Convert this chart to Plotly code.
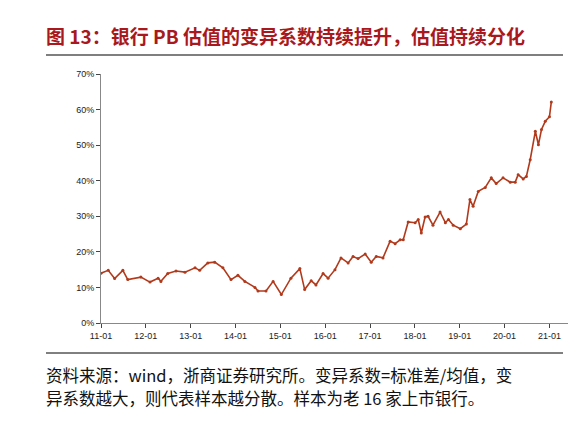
import plotly.graph_objects as go

dates = [
    "2011-01-01", "2011-03-01", "2011-04-22", "2011-06-28", "2011-08-07", "2011-11-22",
    "2012-02-04", "2012-04-10", "2012-05-03", "2012-06-28", "2012-09-03", "2012-11-15",
    "2013-02-05", "2013-03-15", "2013-05-20", "2013-07-15", "2013-09-20", "2013-11-25",
    "2014-01-20", "2014-03-18", "2014-06-08", "2014-07-03", "2014-09-06", "2014-11-03",
    "2015-01-09", "2015-03-28", "2015-06-09", "2015-07-18", "2015-09-09", "2015-10-18",
    "2015-12-15", "2016-01-25", "2016-03-21", "2016-05-09", "2016-07-06", "2016-08-15",
    "2016-09-25", "2016-11-22", "2017-01-10", "2017-02-20", "2017-04-16", "2017-06-13",
    "2017-07-24", "2017-09-03", "2017-09-28", "2017-11-07", "2018-01-03", "2018-01-28",
    "2018-02-22", "2018-03-25", "2018-04-18", "2018-05-28", "2018-07-25", "2018-09-06",
    "2018-10-01", "2018-11-09", "2019-01-06", "2019-02-24", "2019-03-25", "2019-04-20",
    "2019-06-01", "2019-07-28", "2019-09-15", "2019-10-25", "2019-12-20", "2020-02-17",
    "2020-03-28", "2020-04-21", "2020-06-01", "2020-06-27", "2020-07-28", "2020-09-08",
    "2020-10-03", "2020-10-28", "2020-11-28", "2021-01-01", "2021-01-16",
]
cv = [
    14.0, 14.8, 12.5, 14.8, 12.2, 12.9,
    11.5, 12.6, 11.7, 13.9, 14.6, 14.3,
    15.5, 14.8, 16.9, 17.1, 15.5, 12.2,
    13.4, 11.7, 10.0, 9.0, 9.0, 11.7,
    8.0, 12.6, 15.3, 9.4, 11.9, 10.7,
    13.9, 12.6, 15.0, 18.3, 16.9, 18.7,
    18.1, 19.4, 17.1, 18.7, 18.3, 23.0,
    22.3, 23.4, 23.4, 28.4, 28.2, 29.1,
    25.3, 29.8, 30.0, 27.5, 31.2, 28.2,
    29.1, 27.5, 26.5, 27.8, 34.7, 32.8,
    37.0, 38.1, 40.8, 39.2, 40.8, 39.6,
    39.6, 41.7, 40.5, 41.2, 45.9, 53.9,
    50.1, 54.4, 56.7, 58.0, 62.1,
]
y_ticks = [0, 10, 20, 30, 40, 50, 60, 70]
y_labels = [f"{v}%" for v in y_ticks]
title = "<b>图 13：银行 PB 估值的变异系数持续提升，估值持续分化</b>"
source_1 = "资料来源：wind，浙商证券研究所。变异系数=标准差/均值，变"
source_2 = "异系数越大，则代表样本越分散。样本为老 16 家上市银行。"


def py(pixel_y):
    # pixel row -> paper y (plot spans rows 66..315)
    return (315 - pixel_y) / 249


def px(pixel_x):
    return (pixel_x - 93) / 467


fig = go.Figure()
fig.add_trace(go.Scatter(
    x=dates, y=cv, mode="lines+markers",
    line=dict(color="#B23A1C", width=1.6),
    marker=dict(color="#B23A1C", size=3),
    hoverinfo="skip",
))

fig.update_xaxes(
    type="date", range=["2011-01-01", "2021-06-01"],
    tickvals=[f"{y}-01-01" for y in range(2011, 2022)],
    tickformat="%y-%m", ticks="outside", ticklen=4,
    showline=True, linecolor="#888", linewidth=1, showgrid=False,
    tickfont=dict(size=9, color="#222"),
)
fig.update_yaxes(
    range=[0, 70], tickvals=y_ticks, ticktext=y_labels,
    ticks="outside", ticklen=4, showline=True, linecolor="#888", linewidth=1,
    showgrid=False, zeroline=False, tickfont=dict(size=9, color="#222"),
)

fig.add_annotation(
    text=title, xref="paper", yref="paper", x=px(36), y=py(27),
    xanchor="left", yanchor="middle", showarrow=False,
    font=dict(size=19, color="#A8181C", family="Noto Sans CJK SC"),
)
for line, row in [(source_1, 367), (source_2, 390)]:
    fig.add_annotation(
        text=line, xref="paper", yref="paper", x=px(36), y=py(row),
        xanchor="left", yanchor="middle", align="left", showarrow=False,
        font=dict(size=16.5, color="#111", family="Noto Sans CJK SC"),
    )
fig.add_shape(type="line", xref="paper", yref="paper",
              x0=px(38), x1=px(555), y0=py(47), y1=py(47),
              line=dict(color="#000", width=1.2))
fig.add_shape(type="line", xref="paper", yref="paper",
              x0=px(38), x1=px(555), y0=py(345), y1=py(345),
              line=dict(color="#000", width=1))

fig.update_layout(
    width=588, height=425, showlegend=False,
    margin=dict(l=93, r=28, t=66, b=110),
    plot_bgcolor="white", paper_bgcolor="white",
    font=dict(family="Liberation Sans"),
)
fig.write_html("out.html")
